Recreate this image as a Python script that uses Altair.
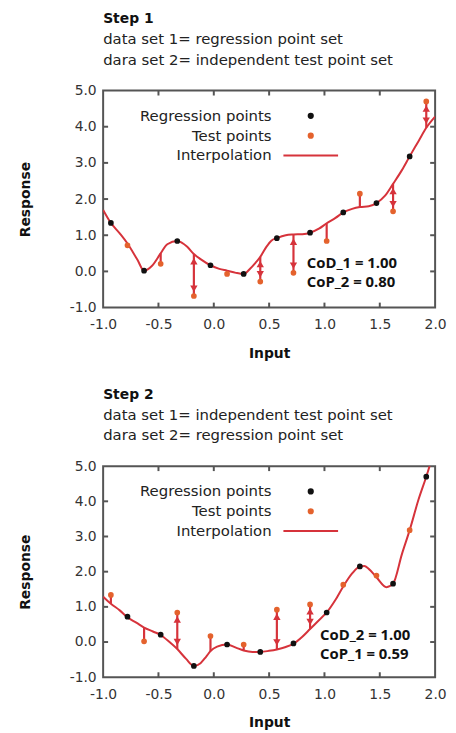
import altair as alt
import pandas as pd

# ---------------- data ----------------
# point set "A" (regression set in Step 1, test set in Step 2)
A_X = [-0.93, -0.63, -0.33, -0.03, 0.27, 0.57, 0.87, 1.17, 1.47, 1.77]
A_Y = [1.34, 0.02, 0.84, 0.17, -0.07, 0.92, 1.07, 1.63, 1.89, 3.18]
# point set "B" (test set in Step 1, regression set in Step 2)
B_X = [-0.78, -0.48, -0.18, 0.12, 0.42, 0.72, 1.02, 1.32, 1.62, 1.92]
B_Y = [0.72, 0.21, -0.68, -0.07, -0.28, -0.04, 0.84, 2.15, 1.66, 4.70]

# interpolation curve of Step 1 (through set A)
C1_X = [-1.0, -0.93, -0.85, -0.78, -0.69, -0.63, -0.56, -0.48, -0.42, -0.33,
        -0.24, -0.18, -0.12, -0.03, 0.05, 0.12, 0.20, 0.27, 0.33, 0.38, 0.42,
        0.475, 0.52, 0.57, 0.65, 0.72, 0.80, 0.87, 0.95, 1.02, 1.10, 1.17,
        1.25, 1.32, 1.40, 1.47, 1.55, 1.62, 1.70, 1.77, 1.85, 1.92, 2.0]
C1_Y = [1.70, 1.34, 1.05, 0.77, 0.32, 0.02, 0.15, 0.50, 0.75, 0.84,
        0.68, 0.48, 0.34, 0.17, 0.07, 0.02, -0.04, -0.07, 0.08, 0.25, 0.40,
        0.68, 0.85, 0.92, 1.00, 1.02, 1.03, 1.07, 1.18, 1.33, 1.48, 1.63,
        1.73, 1.78, 1.80, 1.89, 2.10, 2.42, 2.80, 3.18, 3.60, 3.97, 4.28]
# interpolation curve of Step 2 (through set B)
C2_X = [-1.0, -0.93, -0.85, -0.78, -0.70, -0.63, -0.55, -0.48, -0.40, -0.33,
        -0.25, -0.18, -0.12, -0.07, -0.03, 0.03, 0.12, 0.20, 0.27, 0.35, 0.42,
        0.50, 0.57, 0.65, 0.72, 0.80, 0.87, 0.95, 1.02, 1.10, 1.17, 1.25,
        1.32, 1.36, 1.40, 1.47, 1.56, 1.62, 1.70, 1.77, 1.85, 1.92, 1.96]
C2_Y = [1.29, 1.09, 0.90, 0.70, 0.55, 0.41, 0.30, 0.20, 0.00, -0.20,
        -0.48, -0.68, -0.60, -0.42, -0.26, -0.13, -0.07, -0.16, -0.24, -0.28, -0.28,
        -0.25, -0.21, -0.14, -0.05, 0.15, 0.37, 0.62, 0.84, 1.20, 1.58, 1.95,
        2.15, 2.16, 2.08, 1.84, 1.56, 1.66, 2.50, 3.18, 4.05, 4.70, 5.10]

# curve value at each test point (start of the red error arrows)
C1_AT_B = [0.77, 0.50, 0.48, 0.02, 0.40, 1.02, 1.33, 1.78, 2.42, 3.97]
C2_AT_A = [1.09, 0.41, -0.20, -0.26, -0.24, -0.21, 0.37, 1.58, 1.84, 3.18]

SERIES = ["Regression points", "Test points", "Interpolation"]
X_TICKS = [-1.0, -0.5, 0.0, 0.5, 1.0, 1.5, 2.0]
Y_TICKS = [-1, 0, 1, 2, 3, 4, 5]
X_INNER = [-0.5, 0.0, 0.5, 1.0, 1.5]
Y_INNER = [0, 1, 2, 3, 4]

# ---------------- style ----------------
RED = "#d6333b"
ORANGE = "#e4622d"
BLACK = "#111111"
FRAME = "#555555"
FONT = "DejaVu Sans"
W = 335
LABEL_EXPR = "replace(format(datum.value, '.1f'), '\u2212', '-')"
LINE_SYMBOL = "M-13,0L13,0"  # long horizontal stroke used as legend symbol of the curve


def panel(title, subs, reg_x, reg_y, test_x, test_y, cx, cy, c_at_test, note, note_x, note_y, h):
    xs = alt.Scale(domain=[-1, 2], nice=False, zero=False)
    ys = alt.Scale(domain=[-1, 5], nice=False, zero=False)
    xaxis = alt.Axis(values=X_TICKS, labelExpr=LABEL_EXPR, ticks=False, domain=False,
                     grid=False, labelPadding=10, labelFont=FONT, labelFontSize=14,
                     labelColor="#333", labelFlush=False, title="Input", titleFont=FONT,
                     titleFontSize=14, titleFontWeight="bold", titleColor="#111",
                     titlePadding=15)
    yaxis = alt.Axis(values=Y_TICKS, labelExpr=LABEL_EXPR, ticks=False, domain=False,
                     grid=False, labelPadding=7, labelFont=FONT, labelFontSize=14,
                     labelColor="#333", labelFlush=False, title="Response", titleFont=FONT,
                     titleFontSize=14, titleFontWeight="bold", titleColor="#111",
                     titlePadding=37)

    pts = pd.DataFrame({
        "x": reg_x + test_x,
        "y": reg_y + test_y,
        "series": ["Regression points"] * len(reg_x) + ["Test points"] * len(test_x),
    })
    curve = pd.DataFrame({"x": cx, "y": cy})
    arrows = pd.DataFrame({"x": test_x, "y": c_at_test, "y2": test_y})

    ups, downs = [], []
    for x, yc, yt in zip(test_x, c_at_test, test_y):
        if abs(yt - yc) >= 0.6:
            s = 1 if yt > yc else -1
            (ups if s > 0 else downs).append((x, yt - 0.2 * s))
            (downs if s > 0 else ups).append((x, yc + 0.2 * s))
    up_df = pd.DataFrame(ups, columns=["x", "y"])
    down_df = pd.DataFrame(downs, columns=["x", "y"])

    xt = pd.DataFrame({"x": X_INNER})
    yt_ = pd.DataFrame({"y": Y_INNER})

    def X(f="x"):
        return alt.X(f"{f}:Q", scale=xs, axis=xaxis)

    def Y(f="y"):
        return alt.Y(f"{f}:Q", scale=ys, axis=yaxis)

    tick_b = alt.Chart(xt).mark_rule(color=FRAME, strokeWidth=2).encode(
        x=X(), y=alt.value(h), y2=alt.value(h - 5))
    tick_t = alt.Chart(xt).mark_rule(color=FRAME, strokeWidth=2).encode(
        x=X(), y=alt.value(0), y2=alt.value(5))
    tick_l = alt.Chart(yt_).mark_rule(color=FRAME, strokeWidth=2).encode(
        y=Y(), x=alt.value(0), x2=alt.value(5))
    tick_r = alt.Chart(yt_).mark_rule(color=FRAME, strokeWidth=2).encode(
        y=Y(), x=alt.value(W), x2=alt.value(W - 5))

    line = alt.Chart(curve).mark_line(color=RED, strokeWidth=2, interpolate="monotone",
                                      clip=True).encode(x=X(), y=Y())
    rules = alt.Chart(arrows).mark_rule(color=RED, strokeWidth=2.2).encode(
        x=X(), y=Y(), y2="y2:Q")
    head_up = alt.Chart(up_df).mark_point(shape="triangle-up", filled=True, color=RED,
                                          size=55, opacity=1).encode(x=X(), y=Y())
    head_dn = alt.Chart(down_df).mark_point(shape="triangle-down", filled=True, color=RED,
                                            size=55, opacity=1).encode(x=X(), y=Y())

    leg = alt.Legend(title=None, orient="none", legendX=202, legendY=18,
                     direction="vertical", labelAlign="right", labelOffset={"expr": "-47"},
                     symbolSize=18,
                     labelFont=FONT, labelFontSize=15, labelColor="#222", padding=0,
                     rowPadding=4, symbolStrokeWidth=2, labelLimit=400)
    points = alt.Chart(pts).mark_point(filled=True, strokeWidth=1.5, opacity=1,
                                       size=18).encode(
        x=X(), y=Y(),
        fill=alt.Fill("series:N", scale=alt.Scale(domain=SERIES, range=[BLACK, ORANGE, RED]),
                      legend=leg),
        stroke=alt.Stroke("series:N", scale=alt.Scale(domain=SERIES, range=[BLACK, ORANGE, RED]),
                          legend=leg),
        shape=alt.Shape("series:N", scale=alt.Scale(domain=SERIES,
                                                     range=["circle", "circle", LINE_SYMBOL]),
                        legend=leg),
    )
    notes = alt.Chart(pd.DataFrame({"x": [note_x], "y": [note_y], "t": [note]})).mark_text(
        align="left", baseline="middle", font="Open Sans", fontSize=15, fontWeight="bold",
        color="#111", lineBreak="\n", lineHeight=19).encode(x=X(), y=Y(), text="t:N")

    return alt.layer(tick_b, tick_t, tick_l, tick_r, line, rules, head_up, head_dn,
                     points, notes).properties(
        width=W, height=h,
        title=alt.TitleParams(text=title, subtitle=subs, anchor="start", frame="group",
                              font=FONT, fontSize=14, fontWeight="bold", color="#111",
                              subtitleFont=FONT, subtitleFontSize=15, subtitleColor="#222",
                              subtitlePadding=6, subtitleLineHeight=21, offset=16))


p1 = panel("Step 1", ["data set 1= regression point set", "dara set 2= independent test point set"],
           A_X, A_Y, B_X, B_Y, C1_X, C1_Y, C1_AT_B, "CoD_1 = 1.00\nCoP_2 = 0.80", 0.84, 0.22, 219)
p2 = panel("Step 2", ["data set 1= independent test point set", "dara set 2= regression point set"],
           B_X, B_Y, A_X, A_Y, C2_X, C2_Y, C2_AT_A, "CoD_2 = 1.00\nCoP_1 = 0.59", 0.96, 0.20, 213)

chart = alt.vconcat(p1, p2, spacing=26).resolve_scale(
    fill="independent", stroke="independent", shape="independent"
).properties(
    padding={"left": 9, "top": 0, "right": 0, "bottom": 0}
).configure_view(stroke=FRAME, strokeWidth=2)

chart.save("out.html", embed_options={"renderer": "svg", "actions": False})
